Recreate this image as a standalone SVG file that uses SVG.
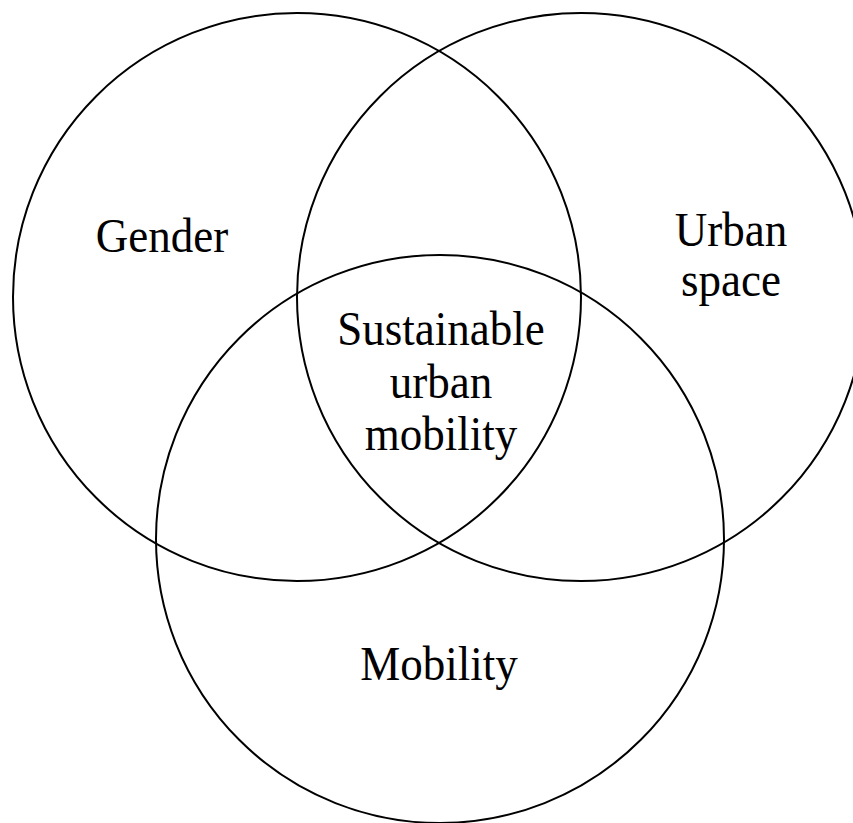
<svg xmlns="http://www.w3.org/2000/svg" width="853" height="823" viewBox="0 0 853 823">
  <style>
    .set { fill: none; stroke: #000; stroke-width: 2; }
    .label { font-family: "Liberation Serif", "Times New Roman", serif; font-size: 45px; fill: #000; text-anchor: middle; }
  </style>
  <rect width="853" height="823" fill="#fff"/>
  <g id="gender">
    <circle class="set" cx="297" cy="297" r="284"/>
    <text class="label" transform="translate(162 252) scale(1 1.1)">Gender</text>
  </g>
  <g id="urban-space">
    <circle class="set" cx="581" cy="297" r="284"/>
    <text class="label" transform="translate(731 246) scale(1 1.1)">Urban</text>
    <text class="label" transform="translate(731 296) scale(1 1.1)">space</text>
  </g>
  <g id="mobility">
    <circle class="set" cx="440" cy="539" r="284"/>
    <text class="label" transform="translate(439 680) scale(1 1.1)">Mobility</text>
  </g>
  <g id="sustainable-urban-mobility">
    <text class="label" transform="translate(441 345) scale(1 1.1)">Sustainable</text>
    <text class="label" transform="translate(441 398) scale(1 1.1)">urban</text>
    <text class="label" transform="translate(441 450) scale(1 1.1)">mobility</text>
  </g>
  <g id="connectors"/>
</svg>
